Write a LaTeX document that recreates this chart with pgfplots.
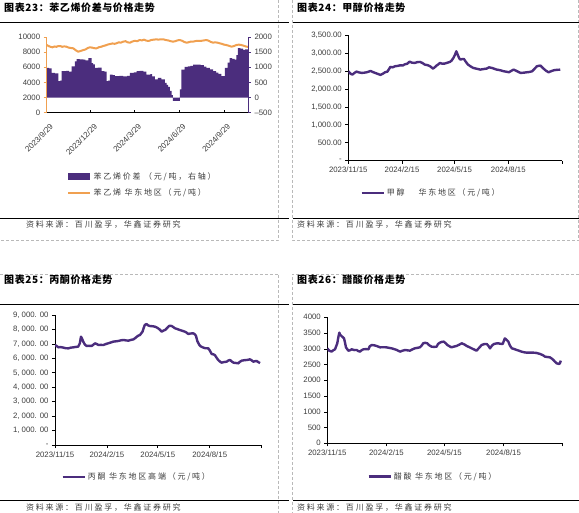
\documentclass[border=0pt]{standalone}
\usepackage{fontspec}
\setmainfont{Liberation Sans}
\newfontfamily\cjk[LetterSpace=22]{Noto Sans CJK SC}
\newfontfamily\cjkt[LetterSpace=6]{Noto Sans CJK SC}
\usepackage{pgfplots}
\pgfplotsset{compat=1.18}
\definecolor{purp}{RGB}{75,45,125}
\definecolor{orng}{RGB}{240,160,80}
\definecolor{dgray}{RGB}{185,185,185}
\definecolor{tgray}{RGB}{60,60,60}
\newcommand{\lgfont}{\cjk\fontsize{8}{9.5}\selectfont\color{tgray}}
\pgfplotsset{
  panel/.style={scale only axis, anchor=south west,
    axis x line*=bottom, axis y line*=left,
    axis line style={line width=0.7pt},
    tick style={black, line width=0.6pt},
    tick align=outside, major tick length=3pt,
    /pgf/number format/assume math mode=true,
    scaled y ticks=false,
    ticklabel style={font=\fontsize{7.8}{8}\selectfont, text=tgray},
    xmin=0, xmax=366, xtick={0,92,182,274,366},
    xticklabels={2023/11/15,2024/2/15,2024/5/15,2024/8/15,{}},
    legend style={draw=none, fill=none, font=\lgfont, legend cell align=left, inner sep=0pt},
    legend image code/.code={\draw[#1,line width=2.5pt] (0pt,0pt) -- (22pt,0pt);},
  },
  pline/.style={purp, line width=2.4pt, line join=round},
}
\begin{document}
\begin{tikzpicture}
\path[use as bounding box] (0,0) rectangle (579pt,-513pt);
% frames
\begin{scope}[dgray, line width=0.6pt, dash pattern=on 3pt off 2pt]
\draw (278.5pt,0pt) -- (278.5pt,-240pt) -- (0pt,-240pt);
\draw (292pt,0pt) -- (292pt,-240pt) -- (579pt,-240pt);
\draw (578.5pt,0pt) -- (578.5pt,-240pt);
\draw (0pt,-274pt) -- (278.5pt,-274pt) -- (278.5pt,-513pt);
\draw (579pt,-274pt) -- (292pt,-274pt) -- (292pt,-513pt);
\end{scope}
\begin{scope}[black, line width=0.8pt]
\draw (0pt,-22pt) -- (289pt,-22pt);
\draw (293pt,-22pt) -- (579pt,-22pt);
\draw (0pt,-218.3pt) -- (289pt,-218.3pt);
\draw (293pt,-218.3pt) -- (579pt,-218.3pt);
\draw (0pt,-304pt) -- (289pt,-304pt);
\draw (293pt,-304pt) -- (579pt,-304pt);
\draw (0pt,-500.7pt) -- (289pt,-500.7pt);
\draw (293pt,-500.7pt) -- (579pt,-500.7pt);
\end{scope}
% titles
\node[anchor=west, inner sep=0pt, font=\cjkt\bfseries\fontsize{10}{12}\selectfont] at (4pt,-8pt) {图表23：苯乙烯价差与价格走势};
\node[anchor=west, inner sep=0pt, font=\cjkt\bfseries\fontsize{10}{12}\selectfont] at (297pt,-8pt) {图表24：甲醇价格走势};
\node[anchor=west, inner sep=0pt, font=\cjkt\bfseries\fontsize{10}{12}\selectfont] at (4pt,-280pt) {图表25：丙酮价格走势};
\node[anchor=west, inner sep=0pt, font=\cjkt\bfseries\fontsize{10}{12}\selectfont] at (297pt,-280pt) {图表26：醋酸价格走势};
% sources
\node[anchor=west, inner sep=0pt, font=\lgfont] at (26pt,-225pt) {资料来源：百川盈孚，华鑫证券研究};
\node[anchor=west, inner sep=0pt, font=\lgfont] at (297pt,-225pt) {资料来源：百川盈孚，华鑫证券研究};
\node[anchor=west, inner sep=0pt, font=\lgfont] at (26pt,-508pt) {资料来源：百川盈孚，华鑫证券研究};
\node[anchor=west, inner sep=0pt, font=\lgfont] at (297pt,-508pt) {资料来源：百川盈孚，华鑫证券研究};

% ---------- Panel 23: bars (right axis)
\begin{axis}[panel, at={(46.7pt,-112.7pt)}, width=201.3pt, height=75.7pt,
  axis x line=none, axis y line*=right, y axis line style={purp},
  ytick style={purp},
  xmin=0, xmax=416, ymin=-500, ymax=2000,
  ytick={-500,0,500,1000,1500,2000}, yticklabels={–500,0,500,1000,1500,2000},
  legend style={at={(rel axis cs:0.1,-0.76)}, anchor=north west, row sep=4pt},
  ]
\addplot[const plot, fill=purp, draw=none, area legend,
  legend image code/.code={\fill[purp] (0pt,-3.5pt) rectangle (22pt,3.5pt);}]
coordinates {
(0,978)(5,960)(10.3,815)(17,800)(24,543)(28,560)(31,870)(40,880)(46,860)(51.6,1033)(58.4,1196)(62,1272)(68,1265)(75.6,1250)(80,1230)(86,1304)(92.8,1141)(96,1100)(99.7,978)(106,990)(113.5,870)(119,860)(123.8,543)(127,560)(130.6,761)(136,740)(141,707)(150,720)(158,700)(166,715)(172,815)(180,830)(185.7,870)(192,880)(200,860)(206,761)(214,770)(218,700)(223.5,598)(230,652)(237,600)(244,489)(248,420)(251,350)(254.4,217)(258,80)(261,-109)(268,-110)(275,272)(278.5,924)(285,1011)(292,1030)(297,1050)(302.5,1087)(310,1090)(318,1070)(325,1020)(330,978)(337,930)(344,870)(350,820)(355,780)(361,707)(368,978)(374,1150)(378,1304)(383,1280)(388.5,1250)(392,1400)(395,1630)(400,1620)(405.7,1576)(410,1590)(416,1576)
} \closedcycle;
\addlegendentry{苯乙烯价差\ （元/吨，右轴）}
\addlegendimage{orng, line width=2.2pt}
\addlegendentry{苯乙烯\ 华东地区（元/吨）}
\end{axis}
% Panel 23: orange line (left axis)
\begin{axis}[panel, at={(46.7pt,-112.7pt)}, width=201.3pt, height=75.7pt,
  y axis line style={orng}, ytick style={orng},
  x tick style={black}, xtick align=inside,
  xmin=0, xmax=416, ymin=0, ymax=10000,
  ytick={0,2000,4000,6000,8000,10000},
  /pgf/number format/1000 sep={},
  xtick={0,91,182,274,366},
  xticklabels={2023/9/29,2023/12/29,2024/3/29,2024/6/29,2024/9/29},
  xticklabel style={rotate=45, anchor=north east, yshift=-6pt, xshift=-2pt, font=\fontsize{8}{8}\selectfont},
  ]
\addplot[orng, line width=2pt, line join=round] coordinates {
(0,8942)(4,8800)(8,8700)(12,8634)(16,8750)(20,8700)(24,8810)(28,8810)(32,8700)(36,8760)(41,8722)(45,8600)(50,8550)(55,8502)(60,8250)(65,8061)(70,8150)(76,8282)(80,8350)(85,8550)(89,8634)(94,8600)(98,8520)(103,8502)(108,8650)(112,8700)(117,8810)(122,8900)(126,9000)(131,9074)(136,9150)(140,9100)(144,9162)(149,9300)(153,9250)(158,9383)(163,9450)(167,9300)(172,9250)(177,9400)(182,9500)(187,9450)(192,9603)(197,9550)(201,9650)(206,9515)(211,9480)(216,9600)(221,9650)(227,9691)(231,9650)(236,9700)(241,9691)(246,9600)(251,9550)(256,9450)(261,9383)(266,9450)(270,9550)(275,9603)(280,9500)(284,9350)(289,9250)(293,9300)(298,9400)(302,9383)(307,9450)(311,9500)(316,9471)(320,9500)(325,9550)(330,9603)(335,9500)(339,9350)(344,9250)(348,9300)(353,9250)(358,9162)(362,9100)(366,9000)(371,8942)(376,8850)(382,8722)(387,8800)(392,8942)(397,8990)(402,8942)(407,8850)(413,8722)(416,8700)
};
\end{axis}

% ---------- Panel 24: methanol
\begin{axis}[panel, at={(348.3pt,-160.7pt)}, width=213.7pt, height=125.7pt,
  ymin=0, ymax=3500, ytick={0,500,...,3500},
  yticklabels={-,500.00,{1,000.00},{1,500.00},{2,000.00},{2,500.00},{3,000.00},{3,500.00}},
  legend style={at={(rel axis cs:0.055,-0.255)}, anchor=west},
  ]
\addplot[pline] coordinates {
(0,2491)(4,2420)(7,2398)(11,2450)(14,2481)(18,2460)(23,2444)(27,2450)(32,2463)(35,2480)(38,2500)(42,2470)(46,2444)(50,2420)(55,2389)(59,2420)(63,2463)(67,2480)(72,2611)(76,2600)(80,2630)(85,2640)(89,2657)(93,2650)(97,2685)(101,2700)(105,2759)(109,2730)(114,2722)(118,2745)(123,2750)(127,2720)(131,2676)(136,2660)(140,2630)(145,2565)(148,2600)(151,2648)(154,2680)(157,2722)(161,2700)(165,2704)(170,2730)(174,2750)(177,2790)(180,2861)(183,2960)(185,3046)(188,2926)(190,2850)(192,2815)(195,2830)(198,2833)(201,2760)(205,2676)(210,2620)(214,2583)(220,2560)(226,2537)(231,2550)(237,2565)(241,2600)(246,2583)(250,2560)(254,2537)(260,2520)(266,2491)(270,2480)(275,2463)(279,2500)(283,2537)(288,2500)(295,2444)(300,2450)(306,2463)(310,2470)(315,2491)(319,2560)(323,2630)(326,2640)(329,2648)(332,2600)(335,2555)(339,2500)(343,2463)(347,2490)(352,2518)(357,2530)(363,2535)
};
\addlegendentry{甲醇\hspace{14pt}华东地区（元/吨）}
\end{axis}

% ---------- Panel 25: acetone
\begin{axis}[panel, at={(55pt,-445pt)}, width=206.7pt, height=130pt,
  ymin=0, ymax=9000, ytick={0,1000,...,9000},
  yticklabels={-,{1, 000. 00},{2, 000. 00},{3, 000. 00},{4, 000. 00},{5, 000. 00},{6, 000. 00},{7, 000. 00},{8, 000. 00},{9, 000. 00}},
  legend style={at={(rel axis cs:0.03,-0.246)}, anchor=west},
  ]
\addplot[pline] coordinates {
(0,6923)(3,6850)(6,6762)(10,6780)(15,6740)(19,6700)(23.6,6692)(28,6740)(32.5,6762)(37,6790)(41,6808)(44,7039)(46,7500)(48,7350)(50,7154)(53,6950)(56,6854)(60,6870)(65,6854)(68,6950)(71,7039)(74,6990)(77,6923)(81,6930)(85.6,6923)(90,6990)(94,7039)(99,7100)(103,7154)(108,7180)(112,7200)(117,7250)(121,7270)(126,7240)(130,7224)(135,7280)(139,7316)(142,7400)(145,7500)(148,7580)(150.5,7616)(153,7750)(155,7847)(157,8100)(159,8308)(162,8377)(165,8280)(168,8239)(173,8220)(177,8193)(181,8120)(185,8008)(189,7847)(192,7920)(195,7962)(198,8080)(200.7,8193)(203,8260)(206.6,8239)(210,8150)(212.5,8078)(217,8020)(221,7962)(226,7900)(230,7847)(233,7780)(236,7685)(240,7720)(245,7731)(248,7650)(249.7,7547)(252,7200)(255.6,6923)(258,6830)(261.5,6762)(266,6700)(271.5,6692)(274,6550)(277.4,6300)(280,6280)(283,6231)(286,6050)(289,5885)(292,5780)(295,5700)(299,5740)(304,5770)(307,5850)(310,5885)(313,5780)(316,5700)(320,5680)(324.7,5654)(327,5750)(330.6,5839)(335,5870)(339.4,5885)(342,5900)(345,5931)(348,5870)(351,5770)(354,5800)(357,5816)(360,5740)(363,5670)
};
\addlegendentry{丙酮\ 华东地区高端（元/吨）}
\end{axis}

% ---------- Panel 26: acetic acid
\begin{axis}[panel, at={(327.3pt,-443.3pt)}, width=235.4pt, height=126pt,
  ymin=0, ymax=4000, ytick={0,500,...,4000},
  /pgf/number format/1000 sep={},
  legend style={at={(rel axis cs:0.169,-0.265)}, anchor=west},
  ]
\addplot[pline] coordinates {
(0,3015)(3,2941)(6.7,2910)(9,2950)(12,2984)(15.5,3174)(17,3350)(18.7,3513)(20,3450)(22,3407)(26,3333)(27.5,3200)(29,3047)(32.7,2941)(35,2950)(38,2984)(42,2960)(45.6,2963)(48,2930)(50.8,2910)(53,2950)(56,2984)(60,2990)(64,2984)(66,3080)(69,3121)(73,3110)(76.7,3090)(82,3047)(87,3050)(92,3047)(96,3030)(100,3015)(104,2990)(108,2963)(113,2910)(117,2940)(121,2963)(125,2950)(128.6,2941)(132,2980)(136,3015)(140,3030)(144,3047)(147,3110)(149,3174)(152,3190)(155.5,3174)(158,3120)(162,3068)(166,3060)(170,3068)(172,3150)(175,3195)(178,3220)(181,3227)(184,3180)(186.6,3121)(190,3080)(193,3047)(197,3070)(201,3090)(205,3130)(209,3174)(213,3140)(216.7,3090)(220,3060)(224.5,3015)(228,2980)(232,2941)(236,3030)(240,3121)(244,3150)(248,3153)(251,3080)(253,3015)(256,3100)(259,3153)(263,3170)(266,3174)(269,3160)(272.7,3153)(274.5,3250)(276,3330)(278,3300)(281.5,3227)(284,3100)(287,3015)(291,2990)(294.5,2963)(298,2940)(302,2910)(306,2890)(310,2878)(315,2880)(320,2878)(325,2870)(331,2835)(335,2800)(338.5,2751)(342,2740)(346,2730)(349,2690)(351.5,2645)(354,2590)(356.7,2539)(360.8,2518)(362,2560)(363,2624)
};
\addlegendentry{醋酸\ 华东地区（元/吨）}
\end{axis}
\end{tikzpicture}
\end{document}
